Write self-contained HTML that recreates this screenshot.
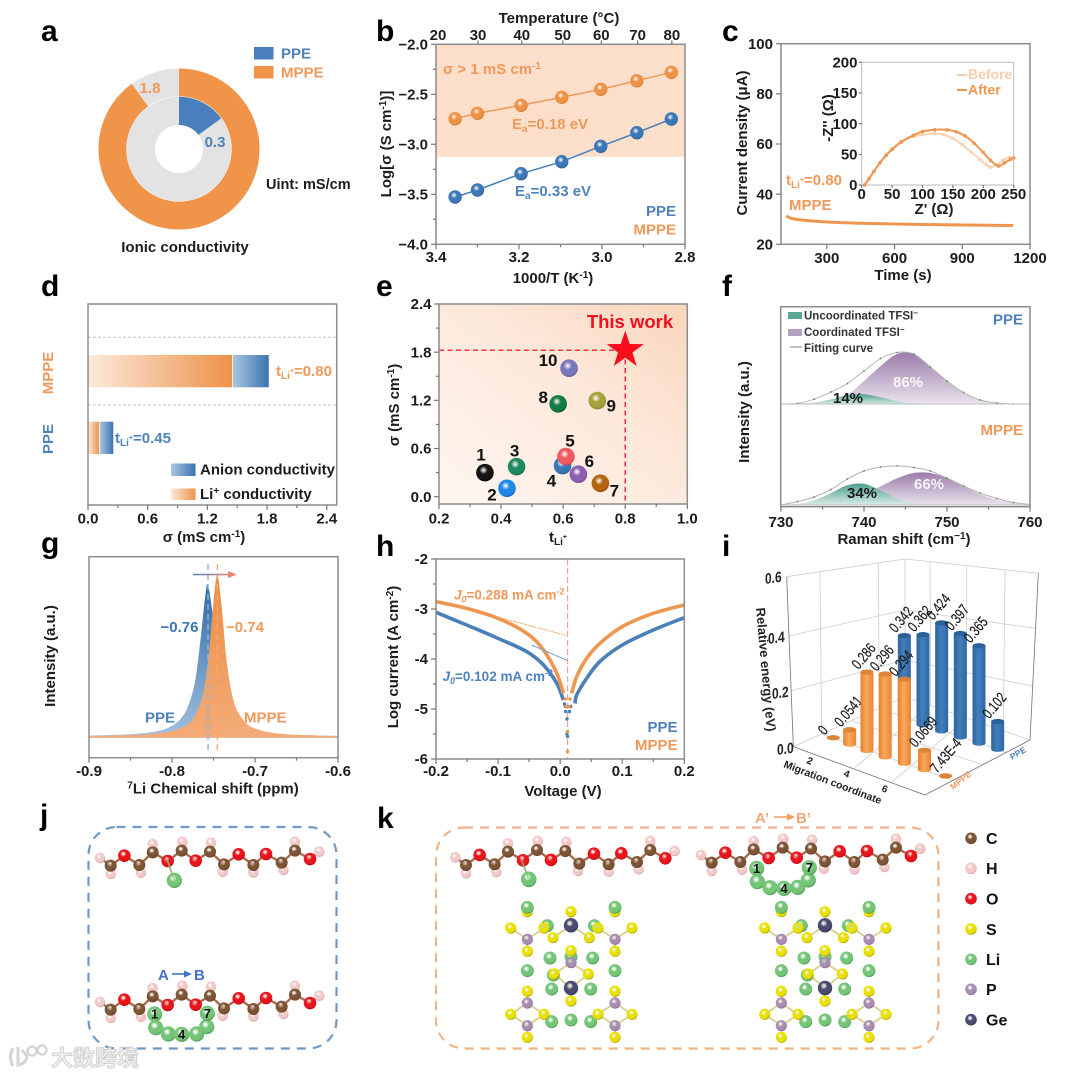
<!DOCTYPE html>
<html lang="en"><head><meta charset="utf-8"><title>Ionic conductivity figure</title>
<style>
html,body{margin:0;padding:0;background:#fff}
svg{display:block;filter:blur(.3px)}
text{font-family:"Liberation Sans","Noto Sans CJK SC",sans-serif}
.t{font-weight:bold;font-size:15px;fill:#1c1c1c}
.l{font-weight:bold;font-size:30px;fill:#000}
.o{fill:#f0985a;font-weight:bold;font-size:15px}
.b{fill:#4f82bb;font-weight:bold;font-size:15px}
.s{font-weight:bold;font-size:11.5px;fill:#333}
</style></head><body>
<svg xmlns="http://www.w3.org/2000/svg" width="1080" height="1077" viewBox="0 0 1080 1077">
<defs>
<linearGradient id="liGrad" x1="0" x2="1" y1="0" y2="0"><stop offset="0" stop-color="#fbeadd"/><stop offset="1" stop-color="#ee9248"/></linearGradient>
<linearGradient id="anGrad" x1="0" x2="1" y1="0" y2="0"><stop offset="0" stop-color="#aac5e1"/><stop offset="1" stop-color="#3a74b0"/></linearGradient>
<linearGradient id="eBg" x1="0" x2="1" y1="1" y2="0"><stop offset="0" stop-color="#fff6f0"/><stop offset=".55" stop-color="#fde9dc"/><stop offset="1" stop-color="#f9d6bc"/></linearGradient>
<linearGradient id="teal" x1="0" x2="0" y1="0" y2="1"><stop offset="0" stop-color="#4f9f8d"/><stop offset="1" stop-color="#d8ebe6"/></linearGradient>
<linearGradient id="purple" x1="0" x2="0" y1="0" y2="1"><stop offset="0" stop-color="#9b7ca9"/><stop offset="1" stop-color="#eae3ee"/></linearGradient>
<linearGradient id="gBlue" x1="0" x2="0" y1="0" y2="1"><stop offset="0" stop-color="#2f6aa7"/><stop offset="1" stop-color="#a3c0df"/></linearGradient>
<linearGradient id="gOrange" x1="0" x2="0" y1="0" y2="1"><stop offset="0" stop-color="#ec8e44"/><stop offset="1" stop-color="#f3ab78"/></linearGradient>
<linearGradient id="gArrow" x1="0" x2="1" y1="0" y2="0"><stop offset="0" stop-color="#4f82bb"/><stop offset="1" stop-color="#e5866f"/></linearGradient>
<linearGradient id="barO" x1="0" x2="1" y1="0" y2="0"><stop offset="0" stop-color="#e5812c"/><stop offset=".45" stop-color="#f9a95c"/><stop offset="1" stop-color="#e88430"/></linearGradient>
<linearGradient id="barB" x1="0" x2="1" y1="0" y2="0"><stop offset="0" stop-color="#2d659f"/><stop offset=".45" stop-color="#437fbd"/><stop offset="1" stop-color="#2f68a3"/></linearGradient>
</defs>
<g id="marks"></g>
<g id="static">
<!-- panel letters -->
<text class="l" x="41" y="41">a</text>
<text class="l" x="376" y="41">b</text>
<text class="l" x="722" y="41">c</text>
<text class="l" x="41" y="296">d</text>
<text class="l" x="376" y="296">e</text>
<text class="l" x="722" y="296">f</text>
<text class="l" x="41" y="553">g</text>
<text class="l" x="376" y="556">h</text>
<text class="l" x="722" y="556">i</text>
<text class="l" x="40" y="825">j</text>
<text class="l" x="377" y="828">k</text>
<!-- a -->
<rect x="254" y="47" width="19.5" height="12.5" fill="#4a7fbd"/>
<rect x="254" y="66" width="19.5" height="12.5" fill="#f0944a"/>
<text class="b" x="281" y="58.5">PPE</text>
<text class="o" x="281" y="77.5">MPPE</text>
<text class="o" x="150" y="93" text-anchor="middle">1.8</text>
<text class="b" x="215" y="147" text-anchor="middle">0.3</text>
<text class="t" x="266" y="189" style="font-size:14.5px">Uint: mS/cm</text>
<text class="t" x="185" y="252" text-anchor="middle">Ionic conductivity</text>
<!-- b -->
<text class="t" x="559" y="23" text-anchor="middle">Temperature (°C)</text>
<text class="t" x="553" y="283" text-anchor="middle">1000/T (K<tspan dy="-5" font-size="10">-1</tspan><tspan dy="5">)</tspan></text>
<text class="t" transform="translate(391 144) rotate(-90)" text-anchor="middle">Log[σ (S cm<tspan dy="-5" font-size="10">-1</tspan><tspan dy="5">)]</tspan></text>
<text class="o" x="443" y="74">σ &gt; 1 mS cm<tspan dy="-5" font-size="10">-1</tspan></text>
<text class="o" x="512" y="129">E<tspan dy="3" font-size="10">a</tspan><tspan dy="-3">=0.18 eV</tspan></text>
<text class="b" x="515" y="196">E<tspan dy="3" font-size="10">a</tspan><tspan dy="-3">=0.33 eV</tspan></text>
<text class="b" x="676" y="216" text-anchor="end">PPE</text>
<text class="o" x="676" y="234.5" text-anchor="end">MPPE</text>
<!-- c -->
<text class="t" transform="translate(747 143) rotate(-90)" text-anchor="middle">Current density (μA)</text>
<text class="t" x="903" y="280" text-anchor="middle">Time (s)</text>
<text class="o" x="786" y="185">t<tspan dy="3" font-size="10">Li</tspan><tspan dy="-6" font-size="7">+</tspan><tspan dy="3">=0.80</tspan></text>
<text class="o" x="789" y="210">MPPE</text>
<text class="t" x="934" y="214" text-anchor="middle">Z' (Ω)</text>
<text class="t" transform="translate(833 118) rotate(-90)" text-anchor="middle">-Z'' (Ω)</text>
<line x1="957" x2="967" y1="75" y2="75" stroke="#f6cdb0" stroke-width="2"/>
<line x1="957" x2="967" y1="90" y2="90" stroke="#ee9650" stroke-width="2"/>
<text x="968" y="79" font-size="14" font-weight="bold" fill="#f6cdb0">Before</text>
<text x="968" y="94.5" font-size="14" font-weight="bold" fill="#ee9650">After</text>
<!-- d -->
<text class="o" transform="translate(53 373) rotate(-90)" text-anchor="middle">MPPE</text>
<text class="b" transform="translate(53 439) rotate(-90)" text-anchor="middle">PPE</text>
<text class="o" x="276" y="376">t<tspan dy="3" font-size="10">Li</tspan><tspan dy="-6" font-size="7">+</tspan><tspan dy="3">=0.80</tspan></text>
<text class="b" x="115" y="443">t<tspan dy="3" font-size="10">Li</tspan><tspan dy="-6" font-size="7">+</tspan><tspan dy="3">=0.45</tspan></text>
<rect x="171" y="463.5" width="24.5" height="12.5" fill="url(#anGrad)"/>
<rect x="171" y="488.5" width="24.5" height="11.5" fill="url(#liGrad)"/>
<text class="t" x="200" y="474.5">Anion conductivity</text>
<text class="t" x="200" y="499">Li<tspan dy="-5" font-size="10">+</tspan><tspan dy="5"> conductivity</tspan></text>
<text class="t" x="204" y="542" text-anchor="middle">σ (mS cm<tspan dy="-5" font-size="10">-1</tspan><tspan dy="5">)</tspan></text>
<!-- e -->
<text x="630" y="328" font-size="18.5" font-weight="bold" fill="#f0101c" text-anchor="middle">This work</text>
<text class="t" transform="translate(399 405) rotate(-90)" text-anchor="middle">σ (mS cm<tspan dy="-5" font-size="10">-1</tspan><tspan dy="5">)</tspan></text>
<text class="t" x="558" y="542" text-anchor="middle">t<tspan dy="3" font-size="10">Li</tspan><tspan dy="-6" font-size="7">+</tspan></text>
<!-- f -->
<text class="t" transform="translate(749 412) rotate(-90)" text-anchor="middle">Intensity (a.u.)</text>
<text class="t" x="904" y="544" text-anchor="middle">Raman shift (cm<tspan dy="-5" font-size="10">−1</tspan><tspan dy="5">)</tspan></text>
<rect x="788" y="312" width="14" height="7" fill="#5aa896"/>
<rect x="788" y="329" width="14" height="7" fill="#b79fc4"/>
<line x1="790" x2="802" y1="347" y2="347" stroke="#999" stroke-width="1.2"/>
<text class="s" x="804" y="319.5">Uncoordinated TFSI<tspan dy="-4" font-size="8">−</tspan></text>
<text class="s" x="804" y="336">Coordinated TFSI<tspan dy="-4" font-size="8">−</tspan></text>
<text class="s" x="804" y="352">Fitting curve</text>
<text class="b" x="1023" y="324.5" text-anchor="end">PPE</text>
<text class="o" x="1023" y="435" text-anchor="end">MPPE</text>
<text class="t" x="848" y="403" text-anchor="middle">14%</text>
<text x="908" y="387" font-size="15" font-weight="bold" fill="#fff" fill-opacity=".9" text-anchor="middle">86%</text>
<text class="t" x="862" y="498" text-anchor="middle">34%</text>
<text x="929" y="489" font-size="15" font-weight="bold" fill="#fff" fill-opacity=".9" text-anchor="middle">66%</text>
<!-- g -->
<text class="t" transform="translate(55 656) rotate(-90)" text-anchor="middle">Intensity (a.u.)</text>
<text class="t" x="213" y="793.5" text-anchor="middle"><tspan dy="-5" font-size="10">7</tspan><tspan dy="5">Li Chemical shift (ppm)</tspan></text>
<text x="198.5" y="632" font-size="15" font-weight="bold" fill="#3a74ae" text-anchor="end">−0.76</text>
<text class="o" x="226" y="632">−0.74</text>
<text class="b" x="145" y="722.5">PPE</text>
<text class="o" x="244" y="722.5">MPPE</text>
<!-- h -->
<text class="t" transform="translate(398 657) rotate(-90)" text-anchor="middle">Log current (A cm<tspan dy="-5" font-size="10">-2</tspan><tspan dy="5">)</tspan></text>
<text class="t" x="563" y="796" text-anchor="middle">Voltage (V)</text>
<text x="454" y="599.5" font-size="13.5" font-weight="bold" fill="#f0985a"><tspan font-style="italic">J</tspan><tspan font-style="italic" dy="3" font-size="9">0</tspan><tspan dy="-3">=0.288 mA cm</tspan><tspan dy="-5" font-size="9">-2</tspan></text>
<text x="442.5" y="681" font-size="13.5" font-weight="bold" fill="#4f82bb"><tspan font-style="italic">J</tspan><tspan font-style="italic" dy="3" font-size="9">0</tspan><tspan dy="-3">=0.102 mA cm</tspan><tspan dy="-5" font-size="9">-2</tspan></text>
<text class="b" x="677.5" y="732" text-anchor="end">PPE</text>
<text class="o" x="677.5" y="750" text-anchor="end">MPPE</text>
<!-- i labels -->
<g font-weight="bold" fill="#222">
<text transform="translate(765 584) skewY(-8) scale(.8 1)" font-size="15">0.6</text>
<text transform="translate(768 644) skewY(-8) scale(.8 1)" font-size="15">0.4</text>
<text transform="translate(772 699) skewY(-8) scale(.8 1)" font-size="15">0.2</text>
<text transform="translate(777 755) skewY(-8) scale(.8 1)" font-size="15">0.0</text>
<text transform="translate(756 608) rotate(85)" font-size="13">Relative energy (eV)</text>
<text transform="translate(783 767) rotate(21)" font-size="10.5">Migration coordinate</text>
<text transform="translate(806 763) rotate(21)" font-size="10">2</text>
<text transform="translate(843 776) rotate(21)" font-size="10">4</text>
<text transform="translate(881 791) rotate(21)" font-size="10">6</text>
</g>
<text transform="translate(953 790) rotate(-38)" font-size="8.5" font-weight="bold" fill="#f0985a">MPPE</text>
<text transform="translate(1012 760) rotate(-30)" font-size="8.5" font-weight="bold" fill="#4f82bb">PPE</text>
<!-- j k -->
<text x="158" y="980" font-size="15" font-weight="bold" fill="#4472c4">A</text>
<line x1="172" x2="186" y1="974" y2="974" stroke="#4472c4" stroke-width="1.6"/>
<polygon points="192,974 184,970.5 184,977.5" fill="#4472c4"/>
<text x="194" y="980" font-size="15" font-weight="bold" fill="#4472c4">B</text>
<text x="755" y="823" font-size="15" font-weight="bold" fill="#f0a878">A’</text>
<line x1="774" x2="789" y1="817" y2="817" stroke="#f0a060" stroke-width="1.6"/>
<polygon points="795,817 787,813.5 787,820.5" fill="#f0a060"/>
<text x="796" y="823" font-size="15" font-weight="bold" fill="#f0a878">B’</text>
<rect x="88.5" y="827" width="248" height="221.5" rx="28" fill="none" stroke="#6f9ac5" stroke-width="2.2" stroke-dasharray="9 7"/>
<rect x="436" y="827.5" width="502.5" height="221" rx="28" fill="none" stroke="#f0b488" stroke-width="2.2" stroke-dasharray="9 7"/>
<g font-size="16" font-weight="bold" fill="#111">
<text x="986" y="844">C</text>
<text x="986" y="874">H</text>
<text x="986" y="904.5">O</text>
<text x="986" y="935">S</text>
<text x="986" y="965">Li</text>
<text x="986" y="995">P</text>
<text x="986" y="1025.5">Ge</text>
</g>
<g fill="none" stroke="#d4d4d4" stroke-width="3">
<path d="M13 1048 q-5 9 0 18 M18 1047 v18 q8 -1 9 -9 q-4 -4 -5 -6"/>
<circle cx="32" cy="1051" r="4.5" stroke-width="2.4"/>
<circle cx="42" cy="1050" r="4.5" stroke-width="2.4"/>
<text x="51" y="1066" font-size="22" font-weight="bold" fill="#f0f0f0" stroke="#d0d0d0" stroke-width=".9" style='font-family:"Liberation Sans","Noto Sans CJK SC",sans-serif'>大数跨境</text>
</g>
</g>
<script>
// ---------- panel a data
const aPpe = 0.3;
const aMppe = 1.8;
const aFull = 2.0;
// ---------- panel b data
const bInvT = [3.354, 3.30, 3.195, 3.097, 3.003, 2.916, 2.833];
const bMppe = [-2.744, -2.69, -2.61, -2.53, -2.45, -2.364, -2.28];
const bPpe = [-3.527, -3.457, -3.294, -3.174, -3.02, -2.884, -2.747];
const bThreshold = -3.125;
const bXTicks = [3.4, 3.2, 3.0, 2.8];
const bXMinor = [3.3, 3.1, 2.9];
const bYTicks = [-2, -2.5, -3, -3.5, -4];
const bYLabels = ['−2.0', '−2.5', '−3.0', '−3.5', '−4.0'];
const bTemps = [20, 30, 40, 50, 60, 70, 80];
// ---------- panel c data
const cTime = [122, 126, 135, 150, 200, 300, 450, 600, 800, 1000, 1125];
const cCurrent = [31.5, 31, 30.6, 30.2, 29.6, 28.9, 28.4, 28.1, 27.8, 27.6, 27.5];
const cXTicks = [300, 600, 900, 1200];
const cYTicks = [20, 40, 60, 80, 100];
const insetAfterZ = [5, 12, 20, 30, 40, 50, 65, 85, 100, 120, 140, 155, 170, 185, 200, 212, 225, 235, 245, 250];
const insetAfterY = [0, 10, 22, 36, 48, 58, 70, 81, 87, 90, 90, 87, 80, 68, 53, 40, 31, 36, 42, 44];
const insetBeforeZ = [5, 12, 20, 30, 40, 50, 65, 85, 100, 120, 135, 150, 165, 180, 195, 205, 212, 222, 232, 242, 250];
const insetBeforeY = [0, 11, 23, 37, 49, 59, 71, 79, 82, 84, 82, 76, 66, 54, 41, 33, 29, 33, 40, 45, 44];
const insetXTicks = [0, 50, 100, 150, 200, 250];
const insetYTicks = [0, 50, 100, 150, 200];
// ---------- panel d data
const dLi = [1.449, 0.11];
const dAnion = [0.368, 0.144];
const dXTicks = [0, 0.6, 1.2, 1.8, 2.4];
const dXLabels = ['0.0', '0.6', '1.2', '1.8', '2.4'];
// ---------- panel e data
const eT = [0.348, 0.419, 0.45, 0.598, 0.609, 0.649, 0.72, 0.584, 0.71, 0.619];
const eSigma = [0.30, 0.105, 0.374, 0.387, 0.50, 0.28, 0.167, 1.156, 1.197, 1.60];
const eIds = ['1', '2', '3', '4', '5', '6', '7', '8', '9', '10'];
const eThisT = 0.8;
const eThisSigma = 1.825;
const eXTicks = [0.2, 0.4, 0.6, 0.8, 1.0];
const eXLabels = ['0.2', '0.4', '0.6', '0.8', '1.0'];
const eYTicks = [0, 0.6, 1.2, 1.8, 2.4];
const eYLabels = ['0.0', '0.6', '1.2', '1.8', '2.4'];
// ---------- panel f data
const fShift = [730, 732, 734, 736, 738, 740, 742, 744, 746, 748, 750, 752, 754, 756, 758, 760];
const fPpeTeal = [0, 0.3, 1.5, 4.6, 8.7, 9.8, 6.7, 2.8, 0.7, 0.1, 0, 0, 0, 0, 0, 0];
const fPpePurple = [0, 0, 0.8, 3, 9, 23, 38, 50, 50, 37, 23, 11.5, 4, 1, 0, 0];
const fPpeFit = [0, 0.6, 4.8, 12, 20.5, 33, 45.5, 51.5, 50, 37, 23, 11.5, 4, 1, 0, 0];
const fMppeTeal = [0.2, 1.1, 4.6, 11.8, 19.7, 21.1, 14.5, 6.4, 1.8, 0.3, 0, 0, 0, 0, 0, 0];
const fMppePurple = [0, 0.2, 0.7, 2.1, 5.2, 10.8, 18.6, 26.7, 32, 32, 26.7, 18.6, 10.8, 5.2, 2.1, 0.7];
const fMppeFit = [0, 3.5, 8, 15.5, 26, 34, 38, 39, 37.5, 34, 27, 19, 12, 6.5, 2.5, 0.5];
const fXTicks = [730, 740, 750, 760];
// ---------- panel g data
const gBlueX = [-0.9, -0.85, -0.82, -0.8, -0.785, -0.775, -0.77, -0.765, -0.76, -0.7566, -0.75, -0.745, -0.74, -0.735, -0.73, -0.72, -0.7, -0.68, -0.65, -0.6];
const gBlueY = [1, 2.5, 5.2, 10.8, 23, 45, 67, 102, 140, 151.7, 116, 78, 52, 36, 26, 14, 6, 3, 1.8, 0.8];
const gOrangeX = [-0.9, -0.85, -0.82, -0.8, -0.785, -0.775, -0.765, -0.76, -0.755, -0.75, -0.7453, -0.74, -0.735, -0.73, -0.725, -0.72, -0.71, -0.7, -0.68, -0.65, -0.6];
const gOrangeY = [0.7, 1.6, 3.1, 5.7, 10.4, 17.6, 35, 54.6, 87, 135, 161.7, 129, 82, 52, 34, 23.8, 13, 8.2, 4, 2, 0.7];
const gPeakBlue = -0.7566;
const gPeakOrange = -0.7453;
const gXTicks = [-0.9, -0.8, -0.7, -0.6];
const gXLabels = ['-0.9', '-0.8', '-0.7', '-0.6'];
// ---------- panel h data
const hOrangeLeftV = [-0.2, -0.1506, -0.1, -0.0537, -0.0268, -0.0054, 0.0051];
const hOrangeLeftL = [-2.853, -2.987, -3.187, -3.487, -3.82, -4.287, -4.687];
const hOrangeRightV = [0.0185, 0.0266, 0.0427, 0.064, 0.1, 0.15, 0.2];
const hOrangeRightL = [-4.687, -4.353, -3.987, -3.687, -3.353, -3.087, -2.92];
const hBlueLeftV = [-0.2, -0.1506, -0.1, -0.0537, -0.0268, -0.0054, 0.0051];
const hBlueLeftL = [-3.067, -3.32, -3.587, -3.853, -4.12, -4.487, -4.82];
const hBlueRightV = [0.024, 0.0266, 0.0427, 0.064, 0.1, 0.15, 0.2];
const hBlueRightL = [-4.89, -4.72, -4.387, -4.05, -3.72, -3.42, -3.173];
const hDipBlueV = [0.007, 0.0085, 0.009, 0.011, 0.011, 0.012, 0.017, 0.015];
const hDipBlueL = [-4.9, -4.95, -5.05, -5.2, -5.5, -5.55, -4.95, -5.05];
const hDipOrangeV = [0.008, 0.01, 0.016, 0.014, 0.012, 0.012];
const hDipOrangeL = [-4.8, -4.95, -4.8, -4.95, -5.45, -5.85];
const hTangentOrangeV = [-0.0915, 0.0105];
const hTangentOrangeL = [-3.19, -3.53];
const hTangentBlueV = [-0.046, 0.0115];
const hTangentBlueL = [-3.72, -4.03];
const hXTicks = [-0.2, -0.1, 0, 0.1, 0.2];
const hXLabels = ['-0.2', '-0.1', '0.0', '0.1', '0.2'];
const hYTicks = [-2, -3, -4, -5, -6];
// ---------- panel i data
const iMppe = [0, 0.0541, 0.286, 0.296, 0.294, 0.0669, 0.000743];
const iMppeLabels = ['0', '0.0541', '0.286', '0.296', '0.294', '0.0669', '7.43E-4'];
const iPpe = [0.342, 0.362, 0.424, 0.397, 0.365, 0.102];
const iPpeLabels = ['0.342', '0.362', '0.424', '0.397', '0.365', '0.102'];

const NS = 'http://www.w3.org/2000/svg';
const marks = document.getElementById('marks');
function mk(tag, attrs, parent) {
  const e = document.createElementNS(NS, tag);
  for (const k in attrs) e.setAttribute(k, attrs[k]);
  (parent || marks).appendChild(e);
  return e;
}
function scale(d0, d1, r0, r1) { return v => r0 + (v - d0) / (d1 - d0) * (r1 - r0); }
function smooth(p) {
  let s = 'M' + p[0][0] + ' ' + p[0][1];
  for (let i = 0; i < p.length - 1; i++) {
    const a = p[Math.max(i - 1, 0)], b = p[i], c = p[i + 1], d = p[Math.min(i + 2, p.length - 1)];
    const c1x = b[0] + (c[0] - a[0]) / 6, c1y = b[1] + (c[1] - a[1]) / 6;
    const c2x = c[0] - (d[0] - b[0]) / 6, c2y = c[1] - (d[1] - b[1]) / 6;
    s += 'C' + c1x.toFixed(2) + ' ' + c1y.toFixed(2) + ' ' + c2x.toFixed(2) + ' ' + c2y.toFixed(2) + ' ' + c[0].toFixed(2) + ' ' + c[1].toFixed(2);
  }
  return s;
}
function zip(xs, ys, fx, fy) { return xs.map((x, i) => [fx(x), fy(ys[i])]); }
function frame(x0, y0, x1, y1, name) {
  const r = mk('rect', { x: x0, y: y0, width: x1 - x0, height: y1 - y0, fill: 'none', stroke: '#8c8c8c', 'stroke-width': 1.5 });
  
  
}
function ticksX(fx, vals, labels, y, len, labelY, name, size) {
  vals.forEach((v, i) => {
    const t = mk('line', { x1: fx(v), x2: fx(v), y1: y, y2: y + len, stroke: '#777', 'stroke-width': 1.2 });
    
    
    if (labels) {
      const l = mk('text', { x: fx(v), y: labelY, class: 't', 'text-anchor': 'middle', style: 'font-size:' + (size || 15) + 'px' });
      l.textContent = labels[i];
      
      
    }
  });
}
function ticksY(fy, vals, labels, x, len, labelX, name, size) {
  vals.forEach((v, i) => {
    const t = mk('line', { x1: x, x2: x - len, y1: fy(v), y2: fy(v), stroke: '#777', 'stroke-width': 1.2 });
    
    
    if (labels) {
      const l = mk('text', { x: labelX, y: fy(v) + 5.2, class: 't', 'text-anchor': 'end', style: 'font-size:' + (size || 15) + 'px' });
      l.textContent = labels[i];
      
      
    }
  });
}
// sphere gradients
function sphere(id, base, dark, glow) {
  const defs = document.querySelector('defs');
  const g = mk('radialGradient', { id: id, cx: '.42', cy: '.36', r: '.64' }, defs);
  mk('stop', { offset: '0', 'stop-color': '#fff', 'stop-opacity': glow === undefined ? '.9' : glow }, g);
  mk('stop', { offset: '.36', 'stop-color': base }, g);
  mk('stop', { offset: '.8', 'stop-color': base }, g);
  mk('stop', { offset: '1', 'stop-color': dark }, g);
  return 'url(#' + id + ')';
}
const sOrange = sphere('sOrange', '#ee9245', '#d97a2e');
const sBlue = sphere('sBlue', '#3d78b6', '#2b5f99');

// ===== a =====
(function () {
  const cx = 179, cy = 149;
  function track(r0, r1, name) {
    const c = mk('circle', { cx: cx, cy: cy, r: (r0 + r1) / 2, fill: 'none', stroke: '#e3e3e3', 'stroke-width': r1 - r0 });
    
    
  }
  function ring(r0, r1, frac, fill, name) {
    const a = frac * 2 * Math.PI;
    const pt = (r, t) => (cx + r * Math.sin(t)).toFixed(2) + ' ' + (cy - r * Math.cos(t)).toFixed(2);
    const big = frac > 0.5 ? 1 : 0;
    const p = mk('path', { fill: fill, d: 'M' + pt(r1, 0) + 'A' + r1 + ' ' + r1 + ' 0 ' + big + ' 1 ' + pt(r1, a) + 'L' + pt(r0, a) + 'A' + r0 + ' ' + r0 + ' 0 ' + big + ' 0 ' + pt(r0, 0) + 'Z' });
    
    
  }
  track(52.7, 80.5, 'mppe-ring-track');
  track(24, 52.2, 'ppe-ring-track');
  ring(52.7, 80.5, aMppe / aFull, '#f0944a', 'mppe-ring-value');
  ring(24, 52.2, aPpe / aFull, '#4a7fbd', 'ppe-ring-value');
})();

// ===== b =====
(function () {
  const fx = scale(3.4, 2.8, 436, 685), fy = scale(-2, -4, 44.3, 244.3);
  const bg = mk('rect', { x: 436, y: 44.3, width: 249, height: fy(bThreshold) - 44.3, fill: '#fbdfcb' });
  
  
  [[bMppe, '#ee9650', sOrange, 'mppe'], [bPpe, '#4a80b8', sBlue, 'ppe']].forEach(s => {
    const l = mk('path', { d: 'M' + zip(bInvT, s[0], fx, fy).map(p => p.join(' ')).join('L'), fill: 'none', stroke: s[1], 'stroke-width': 1.5 });
    
    
    bInvT.forEach((x, i) => {
      const c = mk('circle', { cx: fx(x), cy: fy(s[0][i]), r: 6.7, fill: s[2] });
      
      
    });
  });
  frame(436, 44.3, 685, 244.3, 'b-plot-frame');
  ticksX(fx, bXTicks, bXTicks.map(v => v.toFixed(1)), 244.3, 5, 262, 'b-x');
  ticksX(fx, bXMinor, null, 244.3, 3, 0, 'b-x-minor');
  ticksY(fy, bYTicks, bYLabels, 436, 5, 428, 'b-y');
  ticksY(fy, [-2.25, -2.75, -3.25, -3.75], null, 436, 3, 0, 'b-y-minor');
  bTemps.forEach(T => {
    const x = fx(1000 / (T + 273.15));
    const px = Math.min(675, Math.max(438, x));
    if (x > 436) {
      const t = mk('line', { x1: x, x2: x, y1: 44.3, y2: 40.3, stroke: '#777', 'stroke-width': 1.2 });
      
      
    }
    const l = mk('text', { x: px, y: 40, class: 't', 'text-anchor': 'middle' });
    l.textContent = T;
    
    
  });
})();

// ===== c =====
(function () {
  const fx = scale(97, 1200, 781, 1030), fy = scale(20, 100, 244.3, 43.7);
  const l = mk('path', { d: smooth(zip(cTime, cCurrent, fx, fy)), fill: 'none', stroke: '#ee9650', 'stroke-width': 3 });
  
  
  frame(781, 43.7, 1030, 244.3, 'c-plot-frame');
  ticksX(fx, cXTicks, cXTicks.map(String), 244.3, 5, 263, 'c-x');
  ticksY(fy, cYTicks, cYTicks.map(String), 781, 5, 773, 'c-y');
  const ix = scale(0, 250, 861.7, 1013.7), iy = scale(0, 200, 185, 62.3);
  const f = mk('rect', { x: 861.7, y: 62.3, width: 152, height: 122.7, fill: 'none', stroke: '#bbb', 'stroke-width': 1 });
  
  
  [[insetBeforeZ, insetBeforeY, '#f8d3b8', 'before'], [insetAfterZ, insetAfterY, '#ee9650', 'after']].forEach(s => {
    const pts = zip(s[0], s[1], ix, iy);
    const p = mk('path', { d: smooth(pts), fill: 'none', stroke: s[2], 'stroke-width': 2 });
    
    
    pts.forEach(q => {
      const c = mk('circle', { cx: q[0], cy: q[1], r: 1.8, fill: s[2] });
      
      
    });
  });
  ticksX(ix, insetXTicks, insetXTicks.map(String), 185, 3, 199, 'inset-x');
  ticksY(iy, insetYTicks, insetYTicks.map(String), 861.7, 3, 857.5, 'inset-y');
})();

// ===== d =====
(function () {
  const fx = scale(0, 2.5, 88, 336.7);
  const rows = [[355, 32.3, 'mppe'], [421.7, 32.3, 'ppe']];
  rows.forEach((r, i) => {
    const a = mk('rect', { x: fx(0), y: r[0], width: fx(dLi[i]) - fx(0), height: r[1], fill: 'url(#liGrad)' });
    
    
    const b = mk('rect', { x: fx(dLi[i]) + 0.8, y: r[0], width: fx(dLi[i] + dAnion[i]) - fx(dLi[i]) - 0.8, height: r[1], fill: 'url(#anGrad)' });
    
    
  });
  [337.3, 405].forEach(y => {
    const d = mk('line', { x1: 88, x2: 336.7, y1: y, y2: y, stroke: '#c6c6c6', 'stroke-width': 1, 'stroke-dasharray': '3 2' });
    
    
  });
  frame(88, 304, 336.7, 505, 'd-plot-frame');
  ticksX(fx, dXTicks, dXLabels, 505, 5, 523.5, 'd-x');
  ticksX(fx, [0.3, 0.9, 1.5, 2.1], null, 505, 3, 0, 'd-x-minor');
})();

// ===== e =====
(function () {
  const fx = scale(0.2, 1.0, 439, 687.3), fy = scale(0, 2.4, 496.7, 304);
  const bg = mk('rect', { x: 439, y: 304, width: 248.3, height: 200, fill: 'url(#eBg)' });
  
  
  const colors = [['#151515', '#000'], ['#1e88e8', '#1468c0'], ['#1f8a60', '#14704c'], ['#3a78b8', '#2b5f99'], ['#ee5a60', '#d0444a'], ['#8e5fb0', '#754a96'], ['#b5650f', '#95500a'], ['#127a45', '#0c6236'], ['#a8a03c', '#8c852c'], ['#7a78b8', '#6260a0']];
  const off = [[-4, -18], [-15, 6], [-2, -16], [-11, 15], [4, -16], [11, -13], [14, 7], [-15, -7], [14, 5], [-21, -8]];
  eT.forEach((t0, i) => {
    const c = mk('circle', { cx: fx(eT[i]), cy: fy(eSigma[i]), r: 8.8, fill: sphere('se' + i, colors[i][0], colors[i][1]) });
    
    
    const t = mk('text', { x: fx(eT[i]) + off[i][0], y: fy(eSigma[i]) + off[i][1] + 6, class: 't', 'text-anchor': 'middle', style: 'font-size:17px;fill:#111' });
    t.textContent = eIds[i];
    
    
  });
  const sx = fx(eThisT), sy = fy(eThisSigma);
  const g1 = mk('path', { d: 'M439 ' + sy + 'L' + sx + ' ' + sy + 'L' + sx + ' 504', fill: 'none', stroke: '#f0202c', 'stroke-width': 1.4, 'stroke-dasharray': '5 3.5' });
  
  
  let star = '';
  for (let k = 0; k < 10; k++) {
    const R = k % 2 ? 7.6 : 19.5, a = k * Math.PI / 5;
    star += (sx + R * Math.sin(a)).toFixed(2) + ',' + (sy - R * Math.cos(a)).toFixed(2) + ' ';
  }
  const st = mk('polygon', { points: star, fill: '#fb0d1b' });
  
  
  frame(439, 304, 687.3, 504, 'e-plot-frame');
  ticksX(fx, eXTicks, eXLabels, 504, 5, 523.5, 'e-x');
  ticksX(fx, [0.3, 0.5, 0.7, 0.9], null, 504, 3, 0, 'e-x-minor');
  ticksY(fy, eYTicks, eYLabels, 439, 5, 431.5, 'e-y');
  ticksY(fy, [0.3, 0.9, 1.5, 2.1], null, 439, 3, 0, 'e-y-minor');
})();

// ===== f =====
(function () {
  const fx = scale(730, 760, 781, 1030);
  function panel(base, teal, purple, fit, name) {
    const fy = v => base - v;
    const area = (ys, fill, nm) => {
      const p = zip(fShift, ys, fx, fy);
      const a = mk('path', { d: smooth(p) + 'L' + p[p.length - 1][0] + ' ' + base + 'L' + p[0][0] + ' ' + base + 'Z', fill: fill });
      
      
    };
    area(purple, 'url(#purple)', name + '-coordinated-area');
    area(teal, 'url(#teal)', name + '-uncoordinated-area');
    const pts = zip(fShift, fit, fx, fy);
    const l = mk('path', { d: smooth(pts), fill: 'none', stroke: '#b4b4b4', 'stroke-width': 1 });
    
    
    pts.forEach(q => {
      const c = mk('circle', { cx: q[0], cy: q[1], r: 0.9, fill: '#777' });
      
      
    });
    const b = mk('line', { x1: 781, x2: 1030, y1: base, y2: base, stroke: '#bdbdbd', 'stroke-width': 1 });
    
    
  }
  panel(404, fPpeTeal, fPpePurple, fPpeFit, 'ppe');
  panel(505, fMppeTeal, fMppePurple, fMppeFit, 'mppe');
  frame(780.7, 306.7, 1030, 506.7, 'f-plot-frame');
  ticksX(fx, fXTicks, fXTicks.map(String), 506.7, 5, 527, 'f-x');
  ticksX(fx, [735, 745, 755], null, 506.7, 3, 0, 'f-x-minor');
})();

// ===== g =====
(function () {
  const fx = scale(-0.9, -0.6, 89, 338), base = 736.7, fy = v => base - v;
  const area = (xs, ys, fill, nm) => {
    const p = zip(xs, ys, fx, fy);
    const a = mk('path', { d: smooth(p) + 'L338 ' + (base + 1) + 'L89 ' + (base + 1) + 'Z', fill: fill });
    
    
  };
  area(gBlueX, gBlueY, 'url(#gBlue)', 'ppe-peak-area');
  area(gOrangeX, gOrangeY, 'url(#gOrange)', 'mppe-peak-area');
  [[gPeakBlue, '#8fb4d8', 'ppe-peak-line'], [gPeakOrange, '#f0a878', 'mppe-peak-line']].forEach(s => {
    const l = mk('line', { x1: fx(s[0]), x2: fx(s[0]), y1: 564, y2: 753, stroke: s[1], 'stroke-width': 1.4, 'stroke-dasharray': '6 4' });
    
    
  });
  const ar = mk('line', { x1: 193, x2: 231, y1: 574.5, y2: 574.6, stroke: 'url(#gArrow)', 'stroke-width': 1.6 });
  
  
  const hd = mk('polygon', { points: '237,574.5 228,571 228,578', fill: '#e5866f' });
  
  
  frame(89, 556.7, 338, 757.7, 'g-plot-frame');
  ticksX(fx, gXTicks, gXLabels, 757.7, 5, 776, 'g-x');
  ticksX(fx, [-0.85, -0.75, -0.65], null, 757.7, 3, 0, 'g-x-minor');
})();

// ===== h =====
(function () {
  const fx = scale(-0.2, 0.2, 436, 684.3), fy = scale(-2, -6, 559, 759);
  const guide = mk('line', { x1: fx(0.012), x2: fx(0.012), y1: 559, y2: 759, stroke: '#e9a3a0', 'stroke-width': 1.2, 'stroke-dasharray': '6 3' });
  
  
  [[hBlueLeftV, hBlueLeftL, '#4a80b8', 'ppe-left-branch'], [hBlueRightV, hBlueRightL, '#4a80b8', 'ppe-right-branch'], [hOrangeLeftV, hOrangeLeftL, '#ef9650', 'mppe-left-branch'], [hOrangeRightV, hOrangeRightL, '#ef9650', 'mppe-right-branch']].forEach(s => {
    const p = mk('path', { d: smooth(zip(s[0], s[1], fx, fy)), fill: 'none', stroke: s[2], 'stroke-width': 3.6 });
    
    
  });
  [[hDipBlueV, hDipBlueL, '#4a80b8', 'ppe-dip-point'], [hDipOrangeV, hDipOrangeL, '#ef9650', 'mppe-dip-point']].forEach(s => {
    s[0].forEach((v, i) => {
      const c = mk('circle', { cx: fx(v), cy: fy(s[1][i]), r: 1.7, fill: s[2] });
      
      
    });
  });
  const tO = mk('line', { x1: fx(hTangentOrangeV[0]), y1: fy(hTangentOrangeL[0]), x2: fx(hTangentOrangeV[1]), y2: fy(hTangentOrangeL[1]), stroke: '#ef9650', 'stroke-width': 1, 'stroke-dasharray': '1.5 1' });
  
  
  const tB = mk('line', { x1: fx(hTangentBlueV[0]), y1: fy(hTangentBlueL[0]), x2: fx(hTangentBlueV[1]), y2: fy(hTangentBlueL[1]), stroke: '#7aa3cf', 'stroke-width': 1 });
  
  
  frame(436, 559, 684.3, 759, 'h-plot-frame');
  ticksX(fx, hXTicks, hXLabels, 759, 5, 776, 'h-x');
  ticksX(fx, [-0.15, -0.05, 0.05, 0.15], null, 759, 3, 0, 'h-x-minor');
  ticksY(fy, hYTicks, hYTicks.map(String), 436, 5, 428, 'h-y');
  ticksY(fy, [-2.5, -3.5, -4.5, -5.5], null, 436, 3, 0, 'h-y-minor');
})();

// ===== i =====
(function () {
  const grid = mk('g', { transform: 'translate(720 530) scale(.33333)', fill: 'none', stroke: '#cfcfcf', 'stroke-width': 2.5 });
  
  
  ['M200 140L555 87L955 130', 'M205 318L555 240L945 295', 'M212 483L555 390L937 468', 'M220 650L555 500L930 630', 'M555 87V500', 'M300 128L305 612', 'M475 100L478 535', 'M630 95L632 525', 'M740 107L740 565', 'M855 120L850 600', 'M305 612L700 752', 'M395 572L790 705', 'M478 535L860 668', 'M632 525L405 712', 'M740 565L515 757'].forEach(d => {
    const g = mk('path', { d: d }, grid);
    
    
  });
  ['M200 140L220 650L615 795L930 630L955 130'].forEach(d => {
    const g = mk('path', { d: d, stroke: '#777' }, grid);
    
    
  });
  const bx = (u, s) => s ? 720 + (497 + 56 * u) / 3 : 833.3 + 15.9 * u + 0.467 * u * u;
  const by = (u, s) => s ? 530 + (547.6 + 18.4 * u) / 3 : 737.7 + 6.4 * u;
  const bh = (u, s, v) => v * (262 + 6 * u - 25 * s);
  function bar(u, s, v, label, side, top, name) {
    const x = bx(u, s), y = by(u, s), h = bh(u, s, v), r = 6.5, ry = 2.6;
    const b = mk('path', { d: 'M' + (x - r) + ' ' + (y - h) + 'V' + y + 'A' + r + ' ' + ry + ' 0 0 0 ' + (x + r) + ' ' + y + 'V' + (y - h) + 'Z', fill: side });
    
    
    const c = mk('ellipse', { cx: x, cy: y - h, rx: r, ry: ry, fill: top });
    
    
    const t = mk('text', { transform: 'translate(' + (x - 8.5) + ' ' + (y - h - 2) + ') rotate(-50) scale(.75 1)', 'font-size': 15, fill: '#1a1a1a', stroke: '#1a1a1a', 'stroke-width': 0.2 });
    t.textContent = label;
    
    
  }
  iPpe.forEach((v, i) => bar(i + 1, 1, v, iPpeLabels[i], 'url(#barB)', '#2c6098', 'ppe'));
  iMppe.forEach((v, i) => bar(i, 0, v, iMppeLabels[i], 'url(#barO)', '#dd8436', 'mppe'));
})();

// ===== j / k atoms =====
(function () {
  const G = {
    C: sphere('aC', '#7d5434', '#5e3d22', '.35'), H: sphere('aH', '#f2c9c9', '#c9a0a0', '.5'), O: sphere('aO', '#e9141c', '#b80c12', '.35'),
    S: sphere('aS', '#e8e000', '#a8a200', '.35'), Li: sphere('aLi', '#75c578', '#4f9a54', '.3'), P: sphere('aP', '#a88cb2', '#84688e', '.3'), Ge: sphere('aGe', '#4b4a72', '#33324f', '.2')
  };
  const R = { C: 6, H: 5.3, O: 6.3, S: 5.6, Li: 6.5, P: 5.6, Ge: 7.2 };
  function atom(type, x, y, r) {
    const c = mk('circle', { cx: x, cy: y, r: r || R[type], fill: G[type] });
    
    
  }
  function bond(x1, y1, x2, y2, col, w) {
    const l = mk('line', { x1: x1, y1: y1, x2: x2, y2: y2, stroke: col, 'stroke-width': w });
    
    
  }
  const bb = [['H', 300, 174], ['C', 332, 197], ['O', 373, 167], ['C', 418, 195], ['C', 458, 157], ['O', 503, 183], ['C', 545, 152], ['O', 587, 182], ['C', 630, 155], ['C', 672, 193], ['O', 716, 163], ['C', 760, 195], ['O', 798, 162], ['C', 845, 188], ['C', 885, 152], ['O', 930, 177], ['H', 958, 155]];
  const hs = [[332, 222], [423, 218], [458, 132], [547, 125], [633, 128], [668, 215], [760, 217], [850, 210], [885, 125]];
  function chain(dx, dy) {
    const px = z => z / 3 + dx, py = z => z / 3 + 800 + dy;
    hs.forEach(h => atom('H', px(h[0]), py(h[1])));
    for (let i = 0; i < bb.length - 1; i++) bond(px(bb[i][1]), py(bb[i][2]), px(bb[i + 1][1]), py(bb[i + 1][2]), '#a86a50', 2.4);
    bb.forEach(a => atom(a[0], px(a[1]), py(a[2])));
  }
  function liPath(list, ox, oy, labels) {
    list.forEach(p => atom('Li', ox + p[0] / 3, oy + p[1] / 3, 7.6));
    labels.forEach(l => {
      const t = mk('text', { x: ox + list[l[0]][0] / 3, y: oy + list[l[0]][1] / 3 + 4.5, 'text-anchor': 'middle', 'font-size': 13, 'font-weight': 'bold', fill: '#111' });
      t.textContent = l[1];
      
      
    });
  }
  chain(0, 0);
  bond(503 / 3, 800 + 183 / 3, 523 / 3, 800 + 241 / 3, '#8fb070', 1.6);
  atom('Li', 523 / 3, 800 + 241 / 3, 7.6);
  chain(0, 144);
  liPath([[464, 642], [467, 683], [505, 702], [545, 703], [590, 702], [620, 680], [622, 640]], 0, 800, [[0, '1'], [3, '4'], [6, '7']]);
  chain(355.3, -0.7);
  bond(522, 861, 528.7, 879.3, '#8fb070', 1.6);
  atom('Li', 528.7, 879.3, 7.8);
  chain(601, -3);
  liPath([[50, 205], [52, 245], [90, 263], [132, 265], [173, 262], [205, 240], [208, 203]], 740, 800, [[0, '1'], [3, '4'], [6, '7']]);
  const xLi = [[382, 322], [645, 322], [442, 377], [583, 377], [450, 474], [513, 470], [578, 474], [382, 512], [645, 512], [455, 567], [572, 567], [455, 665], [513, 660], [572, 665], [460, 525]];
  const xS = [[382, 335], [645, 335], [513, 335], [332, 384], [432, 384], [594, 384], [696, 384], [459, 413], [568, 413], [382, 454], [645, 454], [513, 452], [462, 522], [565, 522], [382, 574], [645, 574], [513, 603], [332, 643], [432, 643], [594, 643], [696, 643], [382, 712], [645, 712]];
  const xP = [[382, 418], [645, 418], [513, 488], [382, 609], [645, 609], [382, 677], [645, 677]];
  const xGe = [[513, 376], [513, 564]];
  const xBonds = [[332, 384, 382, 418], [432, 384, 382, 418], [382, 454, 382, 418], [594, 384, 645, 418], [696, 384, 645, 418], [645, 454, 645, 418], [513, 376, 459, 413], [513, 376, 568, 413], [513, 376, 513, 335], [513, 488, 462, 522], [513, 488, 565, 522], [513, 488, 513, 452], [513, 564, 462, 522], [513, 564, 565, 522], [513, 564, 513, 603], [382, 609, 332, 643], [382, 609, 432, 643], [382, 609, 382, 574], [382, 677, 332, 643], [382, 677, 432, 643], [382, 677, 382, 712], [645, 609, 594, 643], [645, 609, 696, 643], [645, 609, 645, 574], [645, 677, 594, 643], [645, 677, 696, 643], [645, 677, 645, 712]];
  function crystal(dx) {
    const px = z => 400 + z / 3 + dx, py = z => 800 + z / 3;
    xBonds.forEach(b => bond(px(b[0]), py(b[1]), px(b[2]), py(b[3]), '#d8cf90', 1.8));
    xS.slice(0, 2).forEach(a => atom('S', px(a[0]), py(a[1])));
    xLi.forEach(a => atom('Li', px(a[0]), py(a[1])));
    xS.slice(2).forEach(a => atom('S', px(a[0]), py(a[1])));
    xP.forEach(a => atom('P', px(a[0]), py(a[1])));
    xGe.forEach(a => atom('Ge', px(a[0]), py(a[1])));
  }
  crystal(0);
  crystal(254);
  [['C', 838.3], ['H', 868.3], ['O', 898.7], ['S', 929], ['Li', 959.3], ['P', 989.3], ['Ge', 1019.7]].forEach(a => atom(a[0], 971, a[1], 5.8));
})();
</script>
</svg>
</body></html>
